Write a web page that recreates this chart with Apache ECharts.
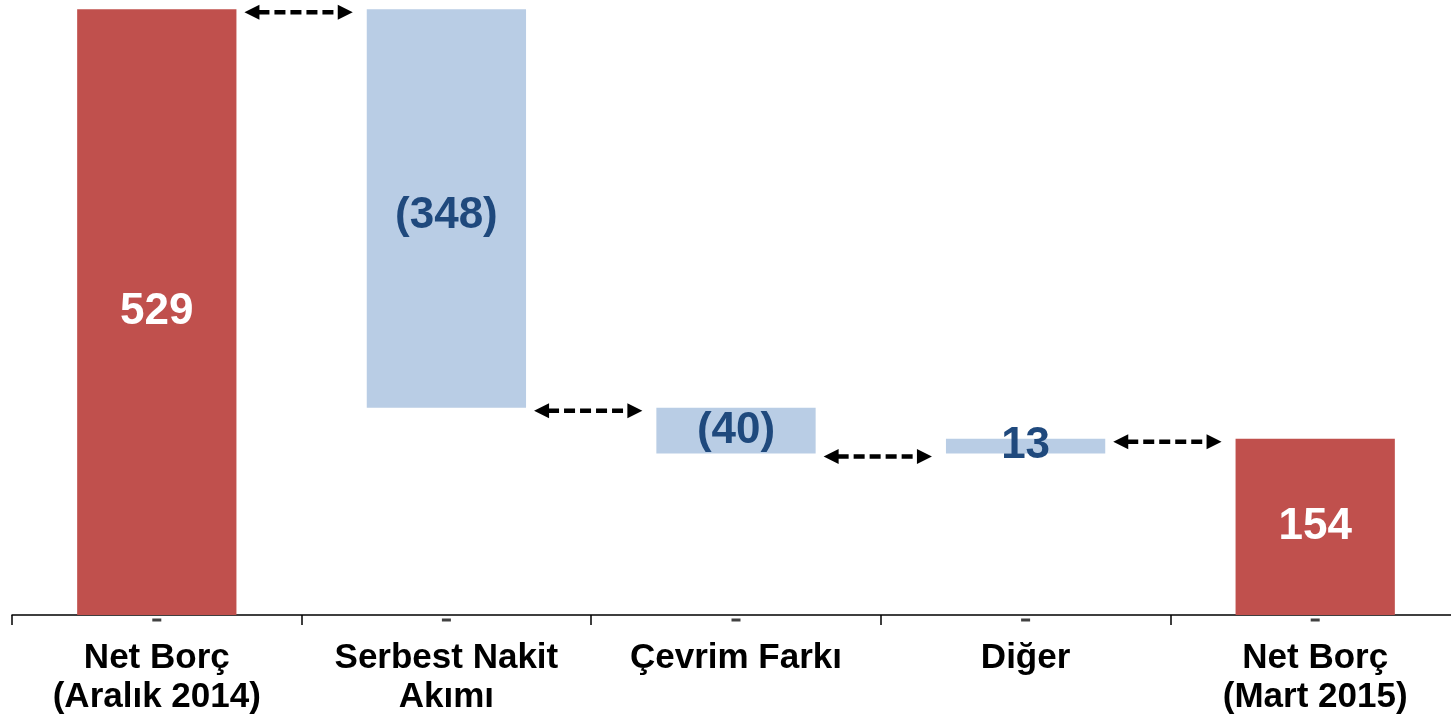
<!DOCTYPE html>
<html>
<head>
<meta charset="utf-8">
<script src="https://cdn.jsdelivr.net/npm/echarts@6/dist/echarts.min.js"></script>
<style>
  html, body { margin: 0; padding: 0; background: #ffffff; overflow: hidden; }
  #chart { width: 1460px; height: 721px; }
</style>
</head>
<body>
<div id="chart"></div>
<script>
// Net borç köprüsü (milyon)
const categories = ['Net Borç\n(Aralık 2014)', 'Serbest Nakit\nAkımı', 'Çevrim Farkı', 'Diğer', 'Net Borç\n(Mart 2015)'];
const values = [529, -348, -40, 13, 154];
const kinds = ['total', 'delta', 'delta', 'delta', 'total'];

const RED = '#C0504D';
const LIGHT_BLUE = '#B9CDE5';
const DARK_BLUE = '#1F497D';
const FONT = 'Liberation Sans, Arial, sans-serif';

// Build invisible base + visible segment for each step, and the running level after it
const baseData = [];
const barData = [];
const levels = [];
let running = 0;
values.forEach((v, i) => {
  if (kinds[i] === 'total') {
    baseData.push(0);
    barData.push({ value: v, raw: v, itemStyle: { color: RED }, label: { color: '#ffffff' } });
    running = v;
  } else {
    const next = running + v;
    baseData.push(Math.min(running, next));
    barData.push({ value: Math.abs(v), raw: v, itemStyle: { color: LIGHT_BLUE }, label: { color: DARK_BLUE } });
    running = next;
  }
  levels.push(running);
});
// the tall cash-flow label sits a little below the bar centre
barData[1].label.offset = [0, 7];

// Connector arrows between neighbouring bars at the running level
const arrowData = levels.slice(0, -1).map((lv, i) => [i, lv]);

const BAR_RATIO = 0.55;

function renderArrow(params, api) {
  const i = api.value(0);
  const lv = api.value(1);
  const p1 = api.coord([i, lv]);
  const p2 = api.coord([i + 1, lv]);
  const band = api.size([1, 0])[0];
  const half = band * BAR_RATIO / 2;
  const x1 = p1[0] + half + 8;
  const x2 = p2[0] - half - 14;
  const y = p1[1] + 3;
  const head = 15, hw = 7.5;
  return {
    type: 'group',
    children: [
      {
        type: 'line',
        shape: { x1: x1 + head - 1, y1: y, x2: x2 - head + 1, y2: y },
        style: { stroke: '#000', lineWidth: 4.5, lineDash: [11, 5] }
      },
      {
        type: 'polygon',
        shape: { points: [[x1, y], [x1 + head, y - hw], [x1 + head, y + hw]] },
        style: { fill: '#000' }
      },
      {
        type: 'polygon',
        shape: { points: [[x2, y], [x2 - head, y - hw], [x2 - head, y + hw]] },
        style: { fill: '#000' }
      }
    ]
  };
}

const chart = echarts.init(document.getElementById('chart'), null, { renderer: 'canvas' });
chart.setOption({
  animation: false,
  backgroundColor: '#ffffff',
  grid: { left: 12, right: 0, top: 8, bottom: 106 },
  xAxis: {
    type: 'category',
    data: categories,
    axisLine: { show: true, lineStyle: { color: '#000', width: 1.5 } },
    axisTick: { show: true, length: 10, lineStyle: { color: '#000', width: 1.5 } },
    axisLabel: {
      color: '#000',
      fontFamily: FONT,
      fontWeight: 'bold',
      fontSize: 35,
      lineHeight: 39,
      margin: 24,
      interval: 0
    }
  },
  yAxis: {
    type: 'value',
    min: 0,
    max: 530,
    show: false,
    splitLine: { show: false }
  },
  series: [
    {
      type: 'bar',
      stack: 'wf',
      data: baseData,
      barWidth: (BAR_RATIO * 100) + '%',
      itemStyle: { color: 'transparent' },
      silent: true
    },
    {
      type: 'bar',
      stack: 'wf',
      data: barData,
      barWidth: (BAR_RATIO * 100) + '%',
      label: {
        show: true,
        position: 'inside',
        fontFamily: FONT,
        fontWeight: 'bold',
        fontSize: 44,
        formatter: p => {
          const r = p.data.raw;
          return r < 0 ? '(' + Math.abs(r) + ')' : String(r);
        }
      }
    },
    {
      // zero markers just under the axis at each category
      type: 'scatter',
      data: values.map(() => 0),
      symbol: 'rect',
      symbolSize: [9, 3],
      symbolOffset: [0, 5],
      itemStyle: { color: '#111' },
      silent: true,
      z: 4
    },
    {
      type: 'custom',
      renderItem: renderArrow,
      data: arrowData,
      silent: true,
      z: 5
    }
  ]
});
</script>
</body>
</html>
